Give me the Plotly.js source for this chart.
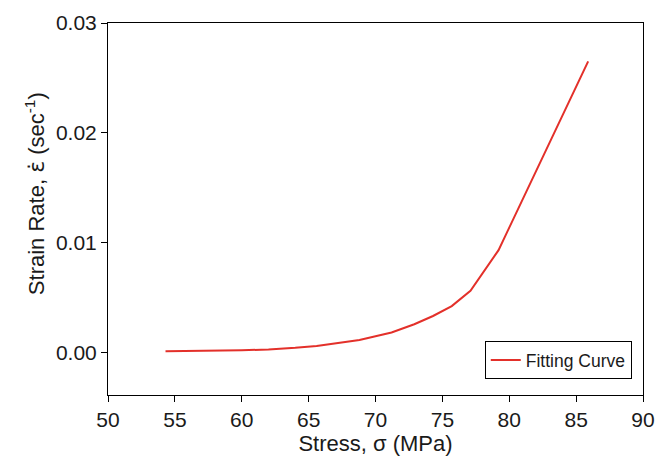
<!DOCTYPE html>
<html>
<head>
<meta charset="utf-8">
<script src="https://cdn.plot.ly/plotly-3.0.1.min.js"></script>
<style>html,body{margin:0;padding:0;background:#fff;}#chart{width:669px;height:459px;}</style>
</head>
<body>
<div id="chart"></div>
<script>
const stress = [54.3, 56, 58, 60, 62, 63, 64, 65.6, 67, 68.8, 70, 71.2, 72.9, 74.3, 75.7, 77.1, 79.2, 85.9];
const strainRate = [0.00008, 0.00010, 0.00013, 0.00017, 0.00025, 0.00031, 0.00040, 0.00057, 0.00080, 0.00112, 0.00145, 0.00180, 0.00255, 0.0033, 0.0042, 0.0056, 0.0093, 0.0265];
const xTicks = [50, 55, 60, 65, 70, 75, 80, 85, 90];
const yTicks = [0, 0.01, 0.02, 0.03];
const yTickText = ["0.00", "0.01", "0.02", "0.03"];
const xTitle = "Stress, \u03c3 (MPa)";
const yTitle = "Strain Rate, <span style=\"font-family:DejaVu Sans\">\u03b5\u0307</span> (sec<sup>-1</sup>)";

const fam = "Liberation Sans, Arial, sans-serif";
const tickFont = {family: fam, size: 21, color: "#1a1a1a"};
const titleFont = {family: fam, size: 22, color: "#1a1a1a"};

Plotly.newPlot("chart", [{
  x: stress, y: strainRate, type: "scatter", mode: "lines",
  name: "Fitting Curve",
  line: {color: "#e3302a", width: 2}
}], {
  width: 669, height: 459,
  margin: {l: 108, r: 26, t: 23, b: 64},
  paper_bgcolor: "#fff", plot_bgcolor: "#fff",
  font: tickFont,
  showlegend: true,
  legend: {
    x: 0.979, y: 0.043, xanchor: "right", yanchor: "bottom",
    bordercolor: "#000", borderwidth: 1, bgcolor: "#fff",
    font: {family: fam, size: 17.5, color: "#1a1a1a"}
  },
  xaxis: {
    range: [50, 90], tickvals: xTicks, ticks: "outside", ticklen: 6,
    tickcolor: "#000", showline: true, linecolor: "#000", linewidth: 1,
    mirror: true, showgrid: false, zeroline: false,
    tickfont: tickFont,
    title: {text: xTitle, font: titleFont, standoff: 5}
  },
  yaxis: {
    range: [-0.0039, 0.03], tickvals: yTicks, ticktext: yTickText, ticks: "outside", ticklen: 6,
    tickcolor: "#000", showline: true, linecolor: "#000", linewidth: 1,
    mirror: true, showgrid: false, zeroline: false,
    tickfont: tickFont
  },
  annotations: [{
    text: yTitle, xref: "paper", yref: "paper",
    x: -0.1364, y: 0.54, xanchor: "center", yanchor: "middle",
    textangle: -90, showarrow: false, font: titleFont
  }]
}, {displayModeBar: false});
</script>
</body>
</html>
